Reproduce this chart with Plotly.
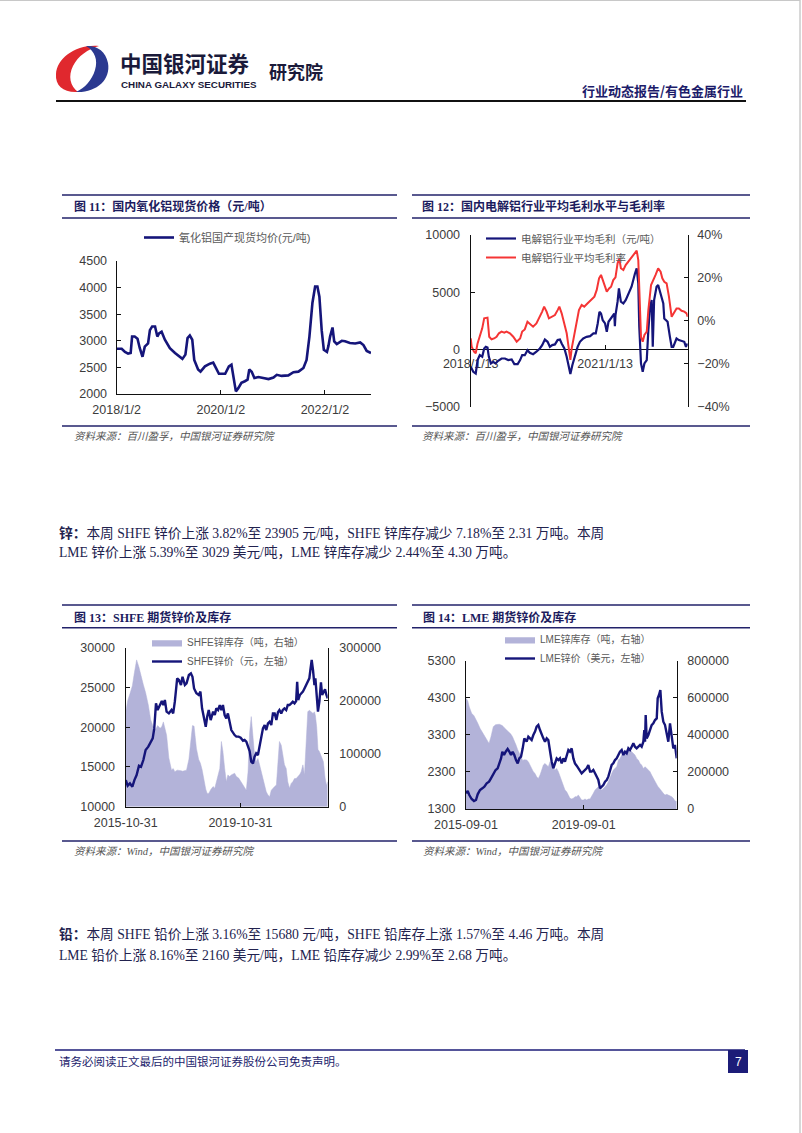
import plotly.graph_objects as go

W, H = 802, 1133


def px(x):
    return x / W


def py(y):
    return 1 - y / H


# ---------------- DATA ----------------
# Fig 11: domestic alumina spot price (yuan/t)
alu_dates = ["2018-01-02", "2018-02-06", "2018-03-01", "2018-03-23", "2018-04-10", "2018-04-20", "2018-05-08",
             "2018-05-28", "2018-06-13", "2018-07-02", "2018-07-18", "2018-08-10", "2018-08-23", "2018-09-08",
             "2018-09-28", "2018-10-14", "2018-10-26", "2018-11-13", "2018-12-06", "2019-01-10", "2019-02-15",
             "2019-03-20", "2019-04-08", "2019-04-29", "2019-05-14", "2019-05-30", "2019-06-16", "2019-06-30",
             "2019-07-27", "2019-08-13", "2019-09-13", "2019-10-18", "2019-11-10", "2019-11-29", "2019-12-20",
             "2020-02-02", "2020-02-28", "2020-03-17", "2020-03-29", "2020-04-17", "2020-05-04", "2020-05-26",
             "2020-06-19", "2020-07-08", "2020-07-20", "2020-08-06", "2020-08-25", "2020-09-22", "2020-10-26",
             "2020-12-02", "2021-01-06", "2021-01-29", "2021-03-04", "2021-04-20", "2021-05-26", "2021-06-30",
             "2021-08-04", "2021-08-26", "2021-09-15", "2021-10-06", "2021-10-25", "2021-11-10", "2021-11-24",
             "2021-12-10", "2021-12-25", "2022-01-16", "2022-01-26", "2022-02-07", "2022-02-24", "2022-03-08",
             "2022-03-26", "2022-04-30", "2022-05-23", "2022-06-26", "2022-08-02", "2022-09-06", "2022-09-29",
             "2022-10-22", "2022-11-21"]
alu_price = [2850, 2850, 2790, 2760, 2770, 3080, 3080, 3040, 2860, 2700, 2890, 2950, 3200, 3270, 3270, 3080,
             3140, 3170, 3020, 2860, 2770, 2700, 2660, 2740, 3050, 3100, 3020, 2640, 2460, 2420, 2520, 2570,
             2590, 2490, 2380, 2380, 2520, 2550, 2330, 2050, 2110, 2210, 2240, 2270, 2460, 2420, 2300, 2320,
             2300, 2280, 2310, 2360, 2340, 2350, 2410, 2420, 2490, 2640, 3080, 3710, 4020, 4020, 3830, 3200,
             2830, 2790, 2900, 3080, 3250, 2990, 2940, 3000, 2990, 2960, 2950, 2970, 2920, 2810, 2770]

# Fig 12: electrolytic aluminium average gross profit (yuan/t) and margin (%)
gp_dates = ["2018-01-13", "2018-02-03", "2018-02-23", "2018-03-10", "2018-03-28", "2018-04-17", "2018-05-03",
            "2018-05-16", "2018-05-30", "2018-06-10", "2018-06-27", "2018-07-15", "2018-08-03", "2018-08-25",
            "2018-09-22", "2018-10-19", "2018-11-15", "2018-12-13", "2019-01-04", "2019-01-31", "2019-02-20",
            "2019-03-09", "2019-03-30", "2019-04-21", "2019-05-10", "2019-06-06", "2019-07-03", "2019-07-31",
            "2019-08-19", "2019-09-10", "2019-10-02", "2019-10-21", "2019-11-09", "2019-12-01", "2019-12-23",
            "2020-01-11", "2020-01-25", "2020-02-16", "2020-03-06", "2020-03-25", "2020-04-05", "2020-04-21",
            "2020-05-12", "2020-06-03", "2020-06-22", "2020-07-19", "2020-08-15", "2020-09-13", "2020-10-10",
            "2020-10-29", "2020-11-14", "2020-11-28", "2020-12-11", "2020-12-25", "2021-01-13", "2021-01-27",
            "2021-02-10", "2021-03-03", "2021-03-21", "2021-03-29", "2021-04-03", "2021-04-08", "2021-04-25",
            "2021-05-06", "2021-05-22", "2021-06-11", "2021-06-30", "2021-07-21", "2021-08-17", "2021-09-14",
            "2021-09-28", "2021-10-11", "2021-10-19", "2021-11-02", "2021-11-16", "2021-11-30", "2021-12-19",
            "2022-01-01", "2022-01-15", "2022-01-28", "2022-02-06", "2022-02-17", "2022-02-25", "2022-03-09",
            "2022-03-22", "2022-04-05", "2022-04-19", "2022-05-03", "2022-05-11", "2022-05-22", "2022-06-07",
            "2022-06-26", "2022-07-10", "2022-07-23", "2022-08-06", "2022-08-19", "2022-09-07", "2022-09-29",
            "2022-10-21", "2022-11-04", "2022-11-18"]
gp_profit = [-1510, -1950, -2100, -930, -500, -640, 90, 230, 170, -640,
             -1220, -1080, -1220, -990, -790, -790, -930, -870, -1280, -1280,
             -930, -500, -500, -60, -290, -410, -200, 90, 380, 870,
             670, 230, 380, 440, 820, 870, 520, 90, -640, -1510,
             -2150, -1370, -500, 230, 670, 960, 1100, 1160, 1400, 1400,
             2270, 3290, 3140, 2560, 2270, 1540, 2420, 2710, 3000, 3140,
             2030, 3000, 4170, 5330, 4170, 4020, 4310, 4900, 5480, 6640,
             7080, 5770, 1990, -1220, -1950, -1220, -930, 1690, 3730, 4310,
             230, 4310, 4900, 5480, 5630, 5040, 4600, 4020, 2710, 2560,
             2420, 1100, 230, 230, 670, 960, 820, 760, 670, 230,
             520]

gm_dates = ["2018-01-13", "2018-01-21", "2018-02-09", "2018-02-23", "2018-03-10", "2018-03-28", "2018-04-17",
            "2018-05-03", "2018-05-16", "2018-05-30", "2018-06-13", "2018-07-02", "2018-07-23", "2018-08-12",
            "2018-08-31", "2018-09-22", "2018-10-14", "2018-11-01", "2018-11-29", "2018-12-26", "2019-01-23",
            "2019-02-20", "2019-03-09", "2019-03-30", "2019-04-21", "2019-05-10", "2019-06-06", "2019-07-03",
            "2019-07-31", "2019-08-19", "2019-09-04", "2019-09-24", "2019-10-13", "2019-11-03", "2019-12-01",
            "2019-12-23", "2020-01-06", "2020-01-25", "2020-02-16", "2020-03-06", "2020-03-25", "2020-04-05",
            "2020-04-16", "2020-05-07", "2020-05-25", "2020-06-14", "2020-07-06", "2020-07-27", "2020-08-24",
            "2020-09-21", "2020-10-18", "2020-11-06", "2020-11-25", "2020-12-11", "2020-12-30", "2021-01-13",
            "2021-01-27", "2021-02-15", "2021-03-03", "2021-03-21", "2021-04-08", "2021-04-25", "2021-05-09",
            "2021-05-22", "2021-06-11", "2021-06-30", "2021-07-21", "2021-08-17", "2021-09-14", "2021-09-28",
            "2021-10-11", "2021-10-19", "2021-11-02", "2021-11-16", "2021-11-30", "2021-12-19", "2022-01-01",
            "2022-01-23", "2022-02-12", "2022-03-01", "2022-03-22", "2022-04-11", "2022-04-25", "2022-05-11",
            "2022-05-30", "2022-06-18", "2022-07-10", "2022-07-31", "2022-08-19", "2022-09-07", "2022-09-29",
            "2022-10-21", "2022-11-09", "2022-11-18"]
gm_margin = [-8.2, -12, -14.4, -15.1, -10.5, -7.4, -3.5, 1.2, 1.5, 1.5,
             -7.4, -8.6, -8.2, -7.4, -5.8, -5.0, -5.5, -5.0, -5.8, -7.4,
             -9.7, -8.2, -5.0, -4.0, -0.4, -1.2, -2.7, -1.2, 1.9, 4.3,
             6.6, 4.3, 1.2, 1.9, 2.7, 5.0, 6.6, 3.5, -1.2, -5.8,
             -13.6, -18.2, -12.8, -5.8, 0.4, 5.0, 7.4, 6.6, 8.2, 9.7,
             11.3, 14.4, 19.8, 21.4, 18.2, 15.9, 13.6, 15.1, 15.9, 19.0,
             20.3, 26.8, 29.1, 24.5, 23.7, 26.0, 27.6, 29.1, 31.4, 32.7,
             28.3, 14.4, -7.4, -9.7, -6.6, -5.0, 5.0, 16.7, 19.0, 21.4,
             24.5, 22.9, 19.8, 18.2, 17.5, 11.3, 1.9, 4.3, 5.8, 5.8,
             4.7, 4.3, 3.5, 1.9]

# Fig 13: SHFE zinc price (yuan, left) and SHFE zinc stocks (t, right)
shfe_dates = ["2015-11-01", "2015-11-25", "2015-12-24", "2016-01-24", "2016-02-19", "2016-03-18", "2016-04-17",
              "2016-05-13", "2016-06-12", "2016-07-11", "2016-08-14", "2016-09-13", "2016-10-09", "2016-10-29",
              "2016-11-20", "2016-12-11", "2017-01-11", "2017-02-02", "2017-02-22", "2017-03-13", "2017-04-04",
              "2017-05-03", "2017-06-06", "2017-06-27", "2017-07-18", "2017-08-17", "2017-09-08", "2017-10-04",
              "2017-10-24", "2017-11-23", "2017-12-14", "2018-01-13", "2018-02-08", "2018-02-28", "2018-03-20",
              "2018-04-19", "2018-05-18", "2018-06-09", "2018-06-30", "2018-07-25", "2018-08-16", "2018-09-03",
              "2018-09-23", "2018-10-18", "2018-11-18", "2018-12-09", "2018-12-29", "2019-01-20", "2019-02-11",
              "2019-03-03", "2019-03-23", "2019-04-14", "2019-05-05", "2019-05-25", "2019-06-16", "2019-07-08",
              "2019-08-19", "2019-09-10", "2019-10-09", "2019-11-04", "2019-12-04", "2019-12-24", "2020-01-15",
              "2020-02-06", "2020-02-26", "2020-03-18", "2020-04-09", "2020-04-29", "2020-05-20", "2020-06-11",
              "2020-07-02", "2020-07-23", "2020-08-14", "2020-09-05", "2020-09-25", "2020-10-17", "2020-11-07",
              "2020-11-28", "2020-12-19", "2021-01-10", "2021-02-01", "2021-02-21", "2021-03-12", "2021-04-04",
              "2021-04-24", "2021-05-15", "2021-06-06", "2021-06-26", "2021-07-18", "2021-08-09", "2021-08-29",
              "2021-09-20", "2021-10-11", "2021-10-24", "2021-11-06", "2021-11-27", "2021-12-14", "2022-01-05",
              "2022-01-25", "2022-02-15", "2022-03-08", "2022-03-28", "2022-04-10", "2022-04-27", "2022-05-14",
              "2022-06-01", "2022-06-13", "2022-06-30", "2022-07-16", "2022-08-03", "2022-08-23", "2022-09-07",
              "2022-09-23", "2022-10-14", "2022-11-01", "2022-11-17"]
shfe_price = [13350, 12640, 12930, 12520, 13350, 13980, 15160, 15030, 15870, 17130,
              17550, 18180, 18600, 19850, 23000, 22160, 22790, 23290, 22790, 23420,
              21950, 21740, 22160, 21740, 23210, 26140, 25930, 25300, 26350, 25300,
              25510, 26560, 26770, 26350, 24880, 24260, 24050, 24470, 22370, 21320,
              20060, 21320, 22160, 20900, 21950, 21530, 22370, 22160, 22790, 22160,
              22790, 21530, 21110, 21740, 20480, 19640, 19010, 18810, 18810, 18680,
              18300, 18390, 18180, 17550, 17000, 15660, 15450, 16290, 16710, 16500,
              17760, 18810, 19850, 20270, 19640, 20480, 20690, 20270, 21740, 21740,
              20900, 21870, 22160, 21740, 22160, 22370, 22160, 22790, 22790, 23000,
              23210, 23000, 23290, 25720, 23420, 24050, 24260, 24470, 24880, 25300,
              25720, 26140, 27190, 28450, 27190, 25300, 26140, 24050, 21950, 23210,
              25640, 24050, 24470, 24760, 24050, 23630]
shfe_stock = [179000, 200000, 213000, 228000, 253000, 277000, 263000, 245000, 230000, 215000,
              192000, 164000, 153000, 145000, 147000, 153000, 148000, 151000, 160000, 148000,
              135000, 92000, 69000, 72000, 66000, 69000, 69000, 68000, 67000, 68000,
              69000, 89000, 126000, 153000, 152000, 110000, 89000, 82000, 70000, 47000,
              33000, 25000, 25000, 32000, 38000, 35000, 47000, 60000, 72000, 123000,
              104000, 72000, 47000, 60000, 57000, 60000, 63000, 57000, 54000, 48000,
              41000, 35000, 31000, 66000, 140000, 170000, 138000, 97000, 85000, 91000,
              79000, 66000, 53000, 38000, 28000, 22000, 19000, 31000, 35000, 38000,
              41000, 91000, 123000, 116000, 97000, 79000, 72000, 47000, 35000, 44000,
              47000, 53000, 53000, 55000, 57000, 61000, 66000, 79000, 60000, 123000,
              179000, 182000, 180000, 178000, 176000, 179000, 172000, 150000, 108000, 104000,
              97000, 93000, 85000, 55000, 40000, 47000]

# Fig 14: LME zinc price (USD, left) and LME zinc stocks (t, right)
lme_dates = ["2015-09-01", "2015-09-22", "2015-10-12", "2015-11-10", "2015-12-09", "2016-01-03", "2016-01-24",
             "2016-02-22", "2016-03-22", "2016-04-16", "2016-05-15", "2016-06-13", "2016-07-07", "2016-08-05",
             "2016-09-03", "2016-09-28", "2016-10-19", "2016-11-09", "2016-11-25", "2016-12-16", "2017-01-06",
             "2017-01-30", "2017-02-20", "2017-03-13", "2017-04-02", "2017-04-23", "2017-05-14", "2017-06-04",
             "2017-06-24", "2017-07-15", "2017-08-05", "2017-08-25", "2017-09-23", "2017-10-14", "2017-11-04",
             "2017-11-24", "2017-12-15", "2018-01-05", "2018-01-25", "2018-02-15", "2018-03-08", "2018-03-29",
             "2018-04-18", "2018-05-09", "2018-05-30", "2018-06-19", "2018-07-10", "2018-07-31", "2018-08-20",
             "2018-09-10", "2018-10-01", "2018-10-22", "2018-11-11", "2018-12-02", "2018-12-23", "2019-01-12",
             "2019-02-02", "2019-02-23", "2019-03-15", "2019-04-05", "2019-04-26", "2019-05-16", "2019-06-06",
             "2019-06-27", "2019-07-18", "2019-08-07", "2019-08-28", "2019-09-18", "2019-10-08", "2019-10-29",
             "2019-11-19", "2019-12-09", "2019-12-30", "2020-01-20", "2020-02-09", "2020-03-01", "2020-03-22",
             "2020-04-12", "2020-05-02", "2020-05-23", "2020-06-13", "2020-07-03", "2020-07-24", "2020-08-14",
             "2020-09-03", "2020-09-24", "2020-10-15", "2020-11-05", "2020-11-25", "2020-12-16", "2021-01-06",
             "2021-01-26", "2021-02-16", "2021-03-09", "2021-03-29", "2021-04-19", "2021-05-10", "2021-05-30",
             "2021-06-20", "2021-07-11", "2021-08-01", "2021-08-21", "2021-09-11", "2021-09-23", "2021-10-02",
             "2021-10-10", "2021-10-22", "2021-11-12", "2021-12-03", "2021-12-23", "2022-01-13", "2022-02-03",
             "2022-02-24", "2022-03-08", "2022-03-24", "2022-04-10", "2022-04-27", "2022-05-17", "2022-06-07",
             "2022-06-28", "2022-07-18", "2022-08-08", "2022-08-29", "2022-09-18", "2022-10-09", "2022-10-30"]
lme_price = [1722, 1785, 1678, 1570, 1516, 1543, 1696, 1812, 1857, 1902,
             1992, 2037, 2127, 2262, 2352, 2397, 2531, 2666, 2846, 2756,
             2846, 2918, 2846, 2756, 2846, 2756, 2621, 2531, 2666, 2711,
             2936, 3206, 3116, 3251, 3206, 3161, 3296, 3386, 3520, 3565,
             3430, 3296, 3206, 3116, 3206, 3161, 2801, 2576, 2397, 2531,
             2666, 2621, 2666, 2531, 2666, 2576, 2756, 2891, 2846, 2936,
             2666, 2531, 2468, 2397, 2352, 2262, 2307, 2352, 2397, 2487,
             2307, 2307, 2352, 2262, 2172, 2082, 1857, 1902, 1947, 2037,
             2082, 2172, 2307, 2487, 2531, 2621, 2666, 2756, 2846, 2891,
             2756, 2846, 2801, 2936, 2891, 2981, 3071, 2981, 2936, 2981,
             3026, 2981, 3116, 3430, 3116, 3835, 3206, 3296, 3475, 3565,
             3610, 3700, 3745, 4284, 4374, 4509, 3925, 3655, 3565, 3296,
             3116, 3610, 3296, 2936, 3026, 2666]
lme_stock = [597000, 584000, 550000, 516000, 503000, 484000, 464000, 435000, 413000, 394000,
             372000, 354000, 390000, 444000, 455000, 458000, 457000, 453000, 450000, 440000,
             431000, 421000, 412000, 403000, 388000, 370000, 345000, 320000, 298000, 280000,
             262000, 266000, 264000, 255000, 237000, 219000, 201000, 192000, 174000, 165000,
             183000, 210000, 237000, 246000, 237000, 228000, 255000, 237000, 219000, 210000,
             219000, 201000, 174000, 147000, 120000, 102000, 93000, 75000, 57500, 54000,
             57500, 66500, 66500, 75000, 57500, 48500, 48500, 54000, 48500, 54000,
             54000, 66500, 84500, 102000, 111000, 120000, 111000, 102000, 111000, 120000,
             129000, 147000, 165000, 192000, 210000, 219000, 228000, 264000, 273000, 291000,
             300000, 309000, 318000, 327000, 318000, 309000, 295000, 291000, 273000, 264000,
             246000, 237000, 219000, 222000, 228000, 225000, 219000, 210000, 201000, 183000,
             165000, 147000, 129000, 123000, 115000, 104000, 93000, 84500, 75000, 79000,
             75000, 72000, 66500, 57500, 43000, 40000]

# tick labels
alu_tickvals = ["2018-01-02", "2020-01-02", "2022-01-02"]
alu_ticktext = ["2018/1/2", "2020/1/2", "2022/1/2"]
gp_tickvals = ["2018-01-13", "2021-01-13"]
gp_ticktext = ["2018/1/13", "2021/1/13"]
shfe_tickvals = ["2015-10-31", "2019-10-31"]
lme_tickvals = ["2015-09-01", "2019-09-01"]

# ---------------- STYLE ----------------
NAVY = "#15157a"
RED = "#f53535"
AREA = "#b3b3d9"
RULE = "#22226a"
TXT = "#22224e"
TICK = "#3c3c3c"
LEG = "#5a5a5a"
SANS = "Liberation Sans, Arial, sans-serif"
CJK = "Noto Sans CJK SC"
MIX = "Liberation Sans, Noto Sans CJK SC"
SERIF = "Liberation Serif, Noto Sans CJK SC"
TF = dict(family=SANS, size=12.5, color=TICK)

fig = go.Figure()

fig.add_trace(go.Scatter(x=alu_dates, y=alu_price, mode="lines", name="氧化铝国产现货均价(元/吨)",
                         line=dict(color=NAVY, width=2.6), xaxis="x", yaxis="y", legend="legend"))

fig.add_trace(go.Scatter(x=gp_dates, y=gp_profit, mode="lines", name="电解铝行业平均毛利（元/吨）",
                         line=dict(color=NAVY, width=2.2), xaxis="x2", yaxis="y2", legend="legend2"))
fig.add_trace(go.Scatter(x=gm_dates, y=gm_margin, mode="lines", name="电解铝行业平均毛利率",
                         line=dict(color=RED, width=2.0), xaxis="x2", yaxis="y3", legend="legend2"))

fig.add_trace(go.Scatter(x=shfe_dates, y=shfe_stock, mode="lines", name="SHFE锌库存（吨，右轴）",
                         line=dict(color=AREA, width=0.5), fill="tozeroy", fillcolor=AREA,
                         xaxis="x3", yaxis="y4", legend="legend3"))
fig.add_trace(go.Scatter(x=shfe_dates, y=shfe_price, mode="lines", name="SHFE锌价（元，左轴）",
                         line=dict(color=NAVY, width=2.4), xaxis="x3", yaxis="y5", legend="legend3"))

fig.add_trace(go.Scatter(x=lme_dates, y=lme_stock, mode="lines", name="LME锌库存（吨，右轴）",
                         line=dict(color=AREA, width=0.5), fill="tozeroy", fillcolor=AREA,
                         xaxis="x4", yaxis="y6", legend="legend4"))
fig.add_trace(go.Scatter(x=lme_dates, y=lme_price, mode="lines", name="LME锌价（美元，左轴）",
                         line=dict(color=NAVY, width=2.4), xaxis="x4", yaxis="y7", legend="legend4"))

AX = dict(showline=True, linecolor="#111111", linewidth=1.3, ticks="inside", ticklen=4,
          tickcolor="#111111", showgrid=False, zeroline=False, tickfont=TF, fixedrange=True)


def ax(**kw):
    d = dict(AX)
    d.update(kw)
    return d


fig.update_layout(
    width=W, height=H, margin=dict(l=0, r=0, t=0, b=0, pad=0, autoexpand=False),
    paper_bgcolor="white", plot_bgcolor="rgba(0,0,0,0)", showlegend=True,
    # Fig 11
    xaxis=ax(domain=[px(116.7), px(371)], anchor="y", type="date",
             range=["2018-01-02", "2022-11-21"], tickvals=alu_tickvals, ticktext=alu_ticktext,
             ticklabelstandoff=4),
    yaxis=ax(domain=[py(394), py(261)], anchor="x", range=[2000, 4500], dtick=500, tick0=2000,
             tickformat="d", ticklabelstandoff=6),
    # Fig 12
    xaxis2=ax(domain=[px(470.7), px(687.7)], anchor="free", position=py(349.3), type="date",
              range=["2018-01-13", "2022-11-18"], tickvals=gp_tickvals, ticktext=gp_ticktext,
              ticklabelstandoff=3, layer="below traces"),
    yaxis2=ax(domain=[py(406.7), py(235)], anchor="x2", range=[-5000, 10000], dtick=5000,
              tickformat="d", ticklabelstandoff=7),
    yaxis3=ax(overlaying="y2", side="right", anchor="x2", range=[-40, 40], dtick=20,
              ticksuffix="%", ticklabelstandoff=6),
    # Fig 13
    xaxis3=ax(domain=[px(125.7), px(327.7)], anchor="y4", type="date",
              range=["2015-10-31", "2022-11-17"], tickvals=shfe_tickvals, ticktext=shfe_tickvals,
              ticklabelstandoff=4),
    yaxis4=ax(domain=[py(806.7), py(647.7)], anchor="x3", side="right", range=[0, 300000],
              dtick=100000, tickformat="d", ticklabelstandoff=8),
    yaxis5=ax(overlaying="y4", side="left", anchor="x3", range=[10000, 30000], dtick=5000,
              tickformat="d", ticklabelstandoff=7),
    # Fig 14
    xaxis4=ax(domain=[px(466), px(676.7)], anchor="y6", type="date",
              range=["2015-09-01", "2022-10-30"], tickvals=lme_tickvals, ticktext=lme_tickvals,
              ticklabelstandoff=4),
    yaxis6=ax(domain=[py(809), py(660.7)], anchor="x4", side="right", range=[0, 800000],
              dtick=200000, tickformat="d", ticklabelstandoff=7),
    yaxis7=ax(overlaying="y6", side="left", anchor="x4", range=[1300, 5300], dtick=1000, tick0=1300,
              tickformat="d", ticklabelstandoff=7),
)

LEGBASE = dict(xanchor="left", yanchor="top", bgcolor="rgba(0,0,0,0)", borderwidth=0,
               itemwidth=30, tracegroupgap=0, traceorder="normal")
fig.update_layout(
    legend=dict(LEGBASE, x=px(139), y=py(223), font=dict(family=MIX, size=11, color=LEG)),
    legend2=dict(LEGBASE, x=px(481), y=py(224), font=dict(family=MIX, size=10.5, color=LEG)),
    legend3=dict(LEGBASE, x=px(147), y=py(628), font=dict(family=MIX, size=10, color=LEG)),
    legend4=dict(LEGBASE, x=px(500), y=py(625), font=dict(family=MIX, size=10, color=LEG)),
)

shapes = []
anns = []


def hline(x0, x1, y, color=RULE, width=1.6):
    shapes.append(dict(type="line", xref="paper", yref="paper", x0=px(x0), x1=px(x1),
                       y0=py(y), y1=py(y), line=dict(color=color, width=width)))


def text(x, y, s, size, color=TXT, family=CJK, xanchor="left"):
    anns.append(dict(xref="paper", yref="paper", x=px(x), y=py(y), text=s, showarrow=False,
                     xanchor=xanchor, yanchor="middle", font=dict(family=family, size=size, color=color)))


# page frame (right + top edge)
shapes.append(dict(type="line", xref="paper", yref="paper", x0=px(800), x1=px(800), y0=0, y1=1,
                   line=dict(color="#b0b0b0", width=1)))
shapes.append(dict(type="line", xref="paper", yref="paper", x0=0, x1=px(800), y0=py(0.5), y1=py(0.5),
                   line=dict(color="#c8c8c8", width=1)))


# header logo (decorative swirl)
def pth(cmds):
    out = []
    for c in cmds:
        if isinstance(c, str):
            out.append(c)
        else:
            out.append(f"{px(c[0]):.5f},{py(c[1]):.5f}")
    return " ".join(out)


red_logo = pth(["M", (99, 46), "C", (76, 44), (57, 58), (56, 74), "C", (55, 86), (64, 93), (78, 92),
                "C", (70, 86), (68, 76), (73, 66), "C", (78, 56), (88, 49), (99, 46), "Z"])
blue_logo = pth(["M", (76, 92), "C", (96, 93), (111, 80), (108, 63), "C", (106, 51), (96, 45), (86, 46),
                 "C", (95, 51), (98, 60), (95, 70), "C", (92, 80), (85, 88), (76, 92), "Z"])
shapes.append(dict(type="path", xref="paper", yref="paper", path=red_logo,
                   fillcolor="#e0282e", line=dict(width=0)))
shapes.append(dict(type="path", xref="paper", yref="paper", path=blue_logo,
                   fillcolor="#2b3990", line=dict(width=0)))

text(118, 62, "<b>中国银河证券</b>", 21.5, color="#1a1a3a")
text(118.5, 84, "<b>CHINA GALAXY SECURITIES</b>", 9.8, color="#1a1a3a", family=SANS)
text(266.5, 71, "<b>研究院</b>", 18, color="#1a1a3a")
text(745, 90.5, "<b>行业动态报告/有色金属行业</b>", 13, color="#1c1c6a", xanchor="right")
hline(56, 746, 101, color="#111111", width=2)

# figure title bars and source lines
for (x0, x1, tx, ty, title, top, bot, src_y, src) in [
    (62, 397, 72, 206.7, "<b>图 11：国内氧化铝现货价格（元/吨）</b>", 195, 218, 426,
     "<i>资料来源：百川盈孚，中国银河证券研究院</i>"),
    (412, 750, 420, 206.7, "<b>图 12：国内电解铝行业平均毛利水平与毛利率</b>", 195, 218, 426,
     "<i>资料来源：百川盈孚，中国银河证券研究院</i>"),
    (62, 397, 72, 617.5, "<b>图 13：SHFE 期货锌价及库存</b>", 605, 627.7, 841,
     "<i>资料来源：Wind，中国银河证券研究院</i>"),
    (412, 750, 421, 617.5, "<b>图 14：LME 期货锌价及库存</b>", 605, 627.7, 841,
     "<i>资料来源：Wind，中国银河证券研究院</i>"),
]:
    hline(x0, x1, top)
    hline(x0, x1, bot)
    hline(x0, x1, src_y)
    text(tx, ty, title, 12, color="#1c1c5e", family=SERIF)
    text(tx, src_y + 11, src, 10.5, color="#555555", family=SERIF)

# body paragraphs
text(57, 532.5, "<b>锌：</b>本周 SHFE 锌价上涨 3.82%至 23905 元/吨，SHFE 锌库存减少 7.18%至 2.31 万吨。本周",
     13.7, family=SERIF)
text(57, 552, "LME 锌价上涨 5.39%至 3029 美元/吨，LME 锌库存减少 2.44%至 4.30 万吨。", 13.7, family=SERIF)
text(57, 934, "<b>铅：</b>本周 SHFE 铅价上涨 3.16%至 15680 元/吨，SHFE 铅库存上涨 1.57%至 4.46 万吨。本周",
     13.7, family=SERIF)
text(57, 955, "LME 铅价上涨 8.16%至 2160 美元/吨，LME 铅库存减少 2.99%至 2.68 万吨。", 13.7, family=SERIF)

# footer
hline(55, 745, 1050, color="#1c1c78", width=1.6)
text(57, 1061, "请务必阅读正文最后的中国银河证券股份公司免责声明。", 11.5, color="#1c1c6c", family=SERIF)
shapes.append(dict(type="rect", xref="paper", yref="paper", x0=px(728), x1=px(748), y0=py(1073), y1=py(1050),
                   fillcolor="#1c1c78", line=dict(width=0)))
text(738, 1061.5, "7", 12, color="white", family=SANS, xanchor="center")

fig.update_layout(shapes=shapes, annotations=anns)
fig.write_html("out.html")
